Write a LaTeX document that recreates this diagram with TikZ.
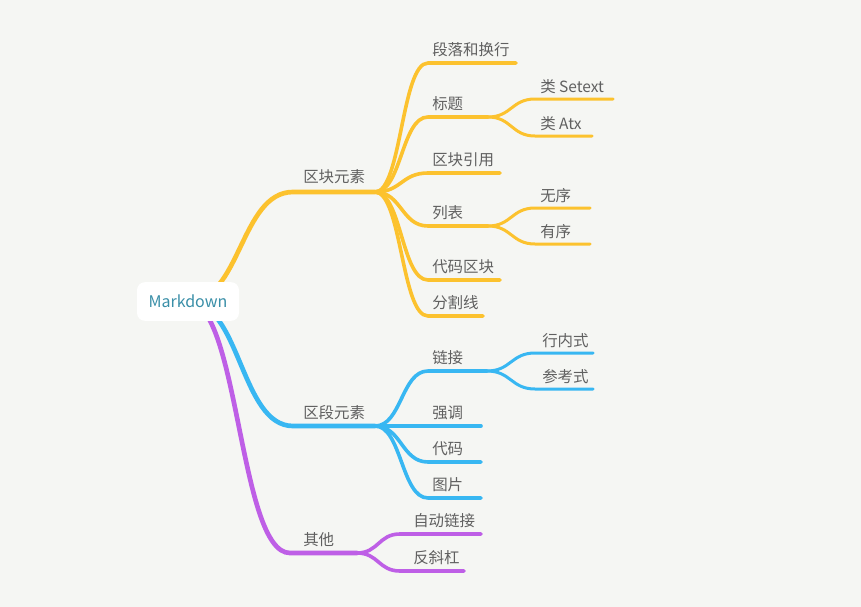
\documentclass[tikz,border=0pt]{standalone}
\usepackage{fontspec}
\newfontfamily\cjk{Noto Sans CJK SC}
\usetikzlibrary{calc}
\definecolor{bgc}{RGB}{245,246,243}
\definecolor{yel}{RGB}{252,194,46}
\definecolor{blu}{RGB}{56,183,242}
\definecolor{pur}{RGB}{190,95,230}
\definecolor{txt}{RGB}{96,96,96}
\definecolor{teal}{RGB}{58,143,168}
\newcommand\mmlink[4]{\draw[#1] let \p1=(#2), \p2=(#3) in (\p1) .. controls ({(\x1+\x2)/2},\y1) and ({(\x1+\x2)/2},\y2) .. (\p2) -- (#4);}
\begin{document}
\begin{tikzpicture}[x=0.75pt,y=-0.75pt,
  lbl/.style={anchor=base west,inner sep=0,text=txt,font=\cjk\fontsize{11.6}{13}\selectfont},
  w1/.style={line width=3.5pt,line cap=round},
  w2/.style={line width=2.7pt,line cap=round},
  w3/.style={line width=2.25pt,line cap=round},
  rootbox/.style={fill=white,rounded corners=6pt,minimum width=76.5pt,minimum height=29pt,inner sep=0,text=teal,font=\cjk\fontsize{12}{14}\selectfont}]
\fill[bgc] (0,0) rectangle (861,607);
\useasboundingbox (0,0) rectangle (861,607);
\coordinate (rc) at (188,301.5);
% yellow
\coordinate (yA) at (293,192); \coordinate (yH) at (375,192);
\coordinate (y1s) at (428,63);  \coordinate (y1e) at (516,63);
\coordinate (y2s) at (428,117); \coordinate (tH) at (488,117);
\coordinate (y3s) at (428,173); \coordinate (y3e) at (500,173);
\coordinate (y4s) at (428,226); \coordinate (lH) at (488,226);
\coordinate (y5s) at (428,280); \coordinate (y5e) at (500,280);
\coordinate (y6s) at (428,316); \coordinate (y6e) at (483,316);
\coordinate (t1s) at (535,99);  \coordinate (t1e) at (613,99);
\coordinate (t2s) at (535,136); \coordinate (t2e) at (592,136);
\coordinate (l1s) at (535,208); \coordinate (l1e) at (590,208);
\coordinate (l2s) at (535,244); \coordinate (l2e) at (590,244);
% blue
\coordinate (bA) at (293,426); \coordinate (bH) at (375,426);
\coordinate (b1s) at (428,371); \coordinate (kH) at (487,371);
\coordinate (b2s) at (428,426); \coordinate (b2e) at (481,426);
\coordinate (b3s) at (428,462); \coordinate (b3e) at (481,462);
\coordinate (b4s) at (428,498); \coordinate (b4e) at (481,498);
\coordinate (k1s) at (535,353); \coordinate (k1e) at (593,353);
\coordinate (k2s) at (535,389); \coordinate (k2e) at (593,389);
% purple
\coordinate (pA) at (290,553); \coordinate (pH) at (357,553);
\coordinate (p1s) at (400,534); \coordinate (p1e) at (481,534);
\coordinate (p2s) at (400,571); \coordinate (p2e) at (464,571);

\mmlink{yel,w1}{rc}{yA}{yH}
\mmlink{yel,w2}{yH}{y1s}{y1e}
\mmlink{yel,w2}{yH}{y2s}{tH}
\mmlink{yel,w2}{yH}{y3s}{y3e}
\mmlink{yel,w2}{yH}{y4s}{lH}
\mmlink{yel,w2}{yH}{y5s}{y5e}
\mmlink{yel,w2}{yH}{y6s}{y6e}
\mmlink{yel,w3}{tH}{t1s}{t1e}
\mmlink{yel,w3}{tH}{t2s}{t2e}
\mmlink{yel,w3}{lH}{l1s}{l1e}
\mmlink{yel,w3}{lH}{l2s}{l2e}

\mmlink{blu,w1}{rc}{bA}{bH}
\mmlink{blu,w2}{bH}{b1s}{kH}
\draw[blu,w2] (bH) -- (b2e);
\mmlink{blu,w2}{bH}{b3s}{b3e}
\mmlink{blu,w2}{bH}{b4s}{b4e}
\mmlink{blu,w3}{kH}{k1s}{k1e}
\mmlink{blu,w3}{kH}{k2s}{k2e}

\mmlink{pur,w1}{rc}{pA}{pH}
\mmlink{pur,w2}{pH}{p1s}{p1e}
\mmlink{pur,w2}{pH}{p2s}{p2e}

\node[rootbox] (root) at (rc) {Markdown};

\node[lbl] (ykys) at (303,182) {区块元素};
\node[lbl] (dlhh) at (432,55) {段落和换行};
\node[lbl] (bt) at (432,109) {标题};
\node[lbl] (qkyy) at (432,165) {区块引用};
\node[lbl] (lb) at (432,218) {列表};
\node[lbl] (dmqk) at (432,272) {代码区块};
\node[lbl] (fgx) at (432,308) {分割线};
\node[lbl] (setext) at (540,92) {类 Setext};
\node[lbl] (atx) at (540,129) {类 Atx};
\node[lbl] (wx) at (540,201) {无序};
\node[lbl] (yx) at (540,237) {有序};

\node[lbl] (qdys) at (303,418) {区段元素};
\node[lbl] (lj) at (432,363) {链接};
\node[lbl] (qd) at (432,418) {强调};
\node[lbl] (dm) at (432,454) {代码};
\node[lbl] (tp) at (432,490) {图片};
\node[lbl] (hns) at (542,346) {行内式};
\node[lbl] (cks) at (542,382) {参考式};

\node[lbl] (qt) at (303,545) {其他};
\node[lbl] (zdlj) at (413,526) {自动链接};
\node[lbl] (fxg) at (413,563) {反斜杠};
\end{tikzpicture}
\end{document}
